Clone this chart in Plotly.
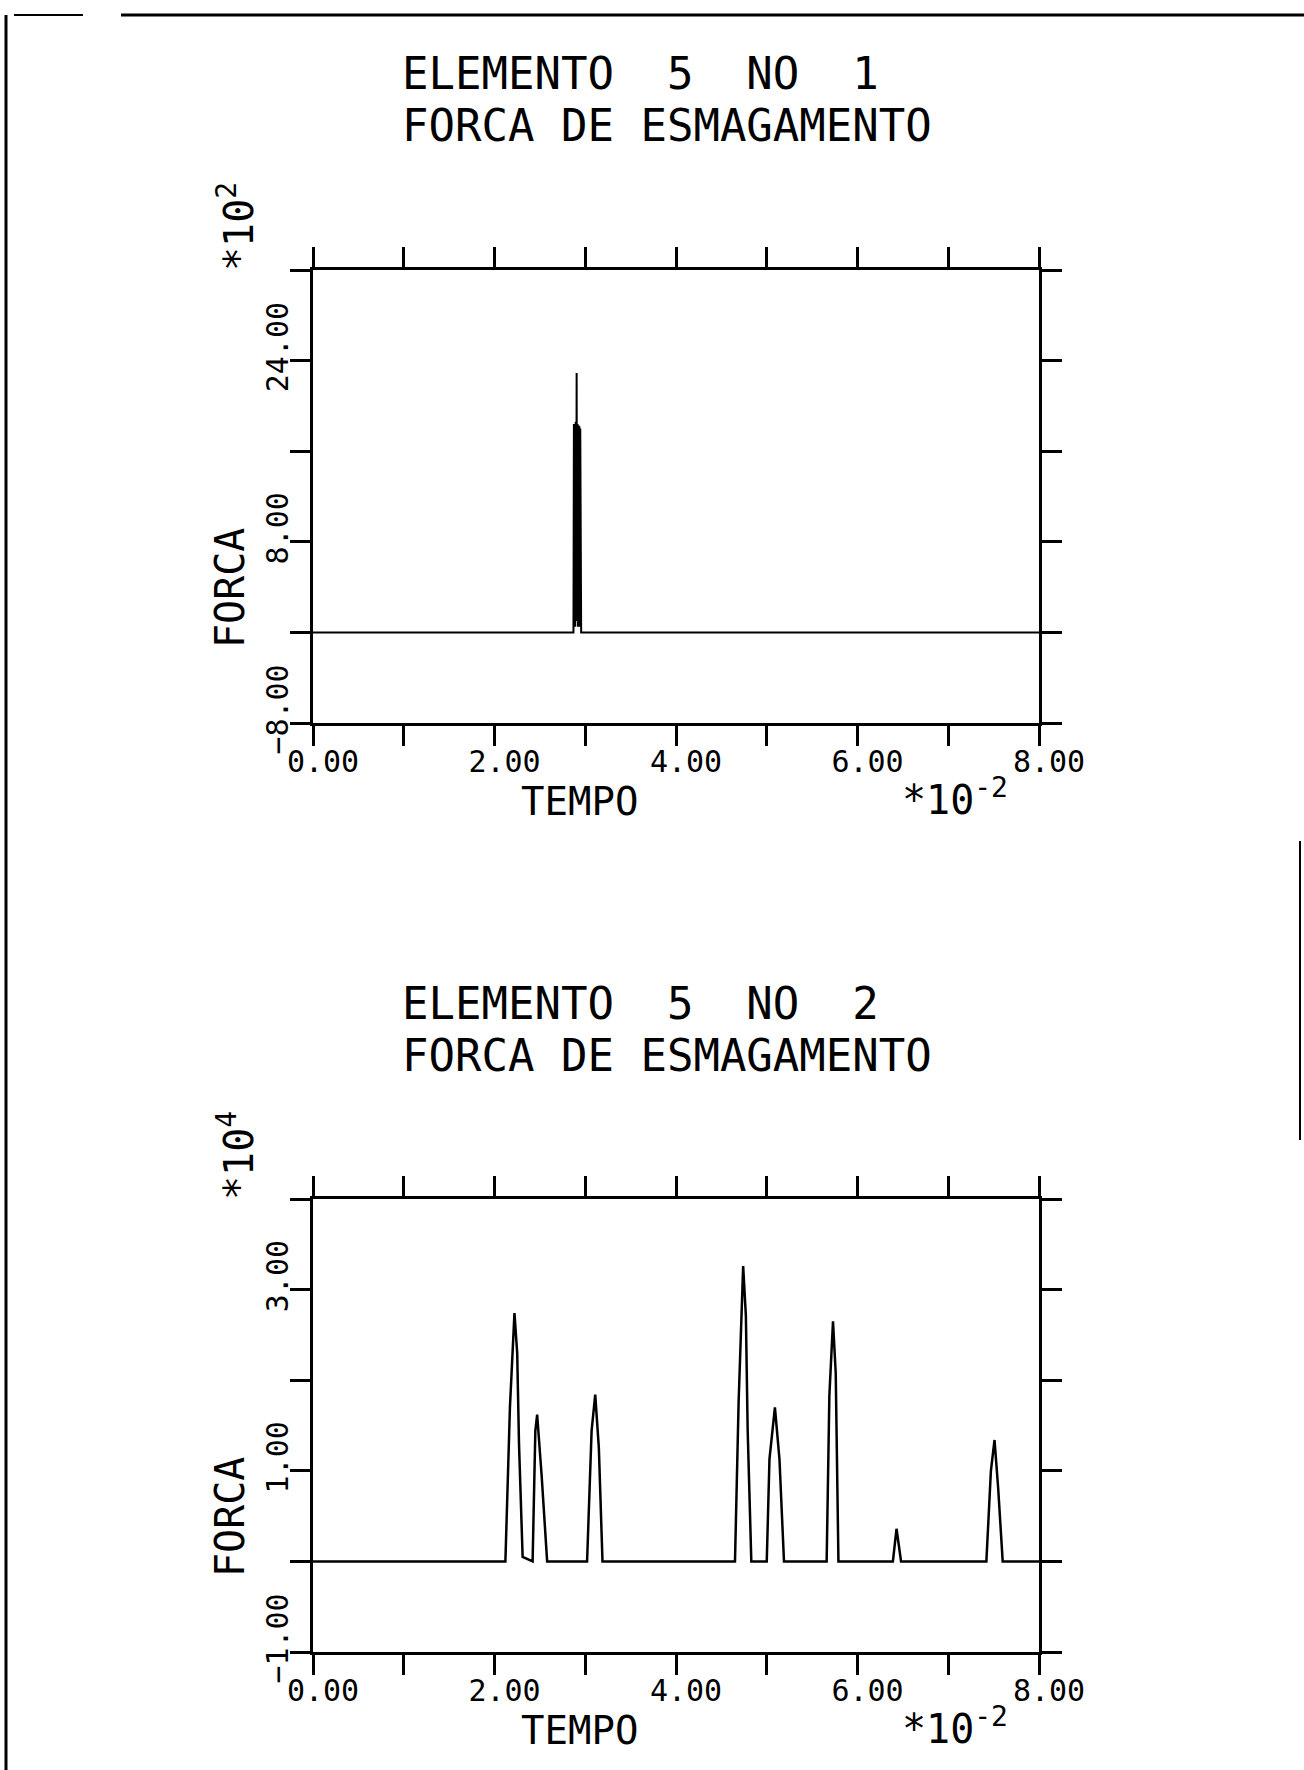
import plotly.graph_objects as go

W, H = 1304, 1770

# ---------------- data (time in units of 1e-2, force in plot units) ----------------
tempo_no1 = [0.000, 2.870, 2.875, 2.880, 2.885, 2.890, 2.895, 2.900, 2.905, 2.910,
             2.915, 2.920, 2.925, 2.930, 2.935, 2.940, 2.945, 2.950, 2.955, 8.000]
forca_no1 = [0.0, 0.0, 18.4, 0.5, 18.4, 0.5, 18.6, 1.0, 22.9, 1.0,
             18.4, 0.5, 18.3, 0.5, 18.2, 0.5, 18.0, 0.5, 0.0, 0.0]

tempo_no2 = [0.00, 2.12, 2.17, 2.20, 2.22, 2.25, 2.27, 2.31, 2.42, 2.45, 2.47, 2.52, 2.58,
             3.02, 3.07, 3.11, 3.15, 3.19, 4.65, 4.69, 4.72, 4.74, 4.77, 4.79, 4.83,
             5.00, 5.03, 5.09, 5.14, 5.19, 5.66, 5.69, 5.73, 5.76, 5.79,
             6.39, 6.43, 6.48, 7.42, 7.47, 7.51, 7.55, 7.60, 8.00]
forca_no2 = [0.0, 0.0, 1.70, 2.40, 2.74, 2.30, 1.30, 0.05, 0.0, 1.44, 1.62, 0.94, 0.0,
             0.0, 1.44, 1.84, 1.25, 0.0, 0.0, 1.76, 2.71, 3.26, 2.71, 1.44, 0.0,
             0.0, 1.13, 1.70, 1.13, 0.0, 0.0, 1.83, 2.65, 2.08, 0.0,
             0.0, 0.36, 0.0, 0.0, 1.00, 1.34, 0.81, 0.0, 0.0]

x_range = [0, 8]
y1_range = [-8, 32]
y2_range = [-1, 4]

titles = [("ELEMENTO\u00a0\u00a05\u00a0\u00a0NO\u00a0\u00a01", "FORCA DE ESMAGAMENTO"),
          ("ELEMENTO\u00a0\u00a05\u00a0\u00a0NO\u00a0\u00a02", "FORCA DE ESMAGAMENTO")]
y_mult = ["*10<sup>2</sup>", "*10<sup>4</sup>"]
x_mult = "*10<sup>-2</sup>"
x_title = "TEMPO"
y_title = "FORCA"

FONT = "DejaVu Sans Mono"

def px(x):
    return x / W

def py(y):
    return 1 - y / H

# plot geometry (pixels)
LEFT, RIGHT = 313, 1039
TOP1, BOT1 = 270, 723
SHIFT = 929
TOP2, BOT2 = TOP1 + SHIFT, BOT1 + SHIFT

fig = go.Figure()
fig.add_trace(go.Scatter(x=tempo_no1, y=forca_no1, mode="lines",
                         line=dict(color="black", width=2), xaxis="x", yaxis="y",
                         showlegend=False, hoverinfo="skip"))
fig.add_trace(go.Scatter(x=tempo_no2, y=forca_no2, mode="lines",
                         line=dict(color="black", width=2.5), xaxis="x2", yaxis="y2",
                         showlegend=False, hoverinfo="skip"))

tick_style = dict(ticks="outside", ticklen=20, tickwidth=3, tickcolor="black")
common = dict(showgrid=False, zeroline=False, showline=True, linecolor="black", linewidth=3,
              mirror="ticks", automargin=False, tickformat=".2f", ticklabelstandoff=-10,
              tickfont=dict(family=FONT, size=30, color="black"), **tick_style)

xax = dict(common, range=x_range, tickmode="linear", tick0=0, dtick=2, ticklabelshift=10,
           minor=dict(tick0=0, dtick=1, showgrid=False, **tick_style),
           domain=[px(LEFT), px(RIGHT)])
yax = dict(common, tickangle=-90, ticklabelshift=-9, tickmode="linear")

fig.update_layout(
    width=W, height=H, autosize=False,
    margin=dict(l=0, r=0, t=0, b=0, pad=0, autoexpand=False),
    paper_bgcolor="white", plot_bgcolor="white",
    showlegend=False,
    xaxis=dict(xax, anchor="y"),
    yaxis=dict(yax, range=y1_range, tick0=-8, dtick=16,
               minor=dict(tick0=0, dtick=8, showgrid=False, **tick_style),
               domain=[py(BOT1), py(TOP1)], anchor="x"),
    xaxis2=dict(xax, anchor="y2"),
    yaxis2=dict(yax, range=y2_range, tick0=-1, dtick=2,
                minor=dict(tick0=0, dtick=1, showgrid=False, **tick_style),
                domain=[py(BOT2), py(TOP2)], anchor="x2"),
)

annotations = []
for i in range(2):
    d = i * SHIFT
    l1, l2 = titles[i]
    annotations += [
        dict(text=l1, x=px(400), y=py(74 + d), xanchor="left", yanchor="middle",
             font=dict(family=FONT, size=44, color="black")),
        dict(text=l2, x=px(400), y=py(126 + d), xanchor="left", yanchor="middle",
             font=dict(family=FONT, size=44, color="black")),
        dict(text=y_title, x=px(230), y=py(588 + d), xanchor="center", yanchor="middle",
             textangle=-90, font=dict(family=FONT, size=40, color="black")),
        dict(text=y_mult[i], x=px(236), y=py(227 + d), xanchor="center", yanchor="middle",
             textangle=-90, font=dict(family=FONT, size=40, color="black")),
        dict(text=x_title, x=px(579), y=py(801 + d), xanchor="center", yanchor="middle",
             font=dict(family=FONT, size=39, color="black")),
        dict(text=x_mult, x=px(900), y=py(797 + d), xanchor="left", yanchor="middle",
             font=dict(family=FONT, size=40, color="black")),
    ]
for a in annotations:
    a.update(xref="paper", yref="paper", showarrow=False)
fig.update_layout(annotations=annotations)

# page frame remnants
shapes = [
    dict(type="line", x0=px(6), x1=px(6), y0=py(15), y1=py(H), line=dict(color="black", width=3)),
    dict(type="line", x0=px(14), x1=px(83), y0=py(15), y1=py(15), line=dict(color="black", width=2)),
    dict(type="line", x0=px(121), x1=px(W), y0=py(15), y1=py(15), line=dict(color="black", width=3)),
    dict(type="line", x0=px(1300), x1=px(1300), y0=py(841), y1=py(1140), line=dict(color="black", width=2)),
]
for s in shapes:
    s.update(xref="paper", yref="paper", layer="above")
fig.update_layout(shapes=shapes)

fig.write_html("out.html")
